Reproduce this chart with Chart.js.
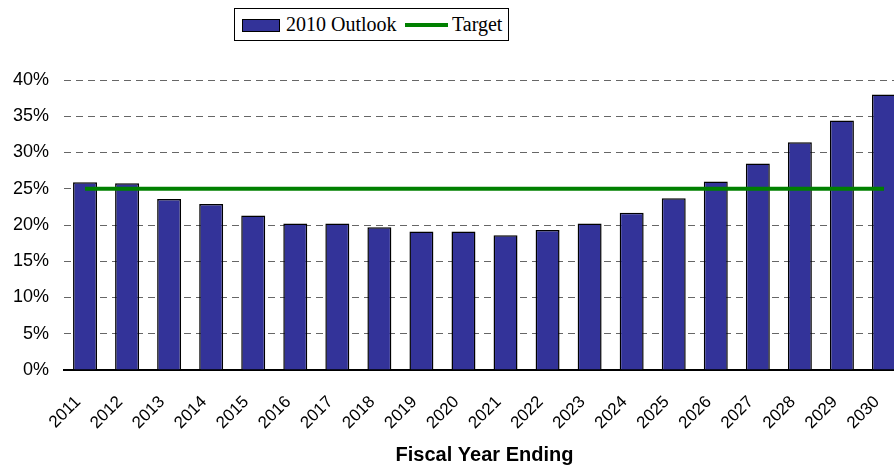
<!DOCTYPE html>
<html>
<head>
<meta charset="utf-8">
<title>2010 Outlook vs Target</title>
<script src="https://cdn.jsdelivr.net/npm/chart.js@4/dist/chart.umd.min.js"></script>
<style>
  html, body { margin: 0; padding: 0; background: #fff; overflow: hidden; width: 894px; height: 468px; }
  #wrap { position: absolute; left: 0; top: 0; width: 906px; height: 468px; }
  #legend {
    position: absolute; left: 234px; top: 8px; width: 273px; height: 31px;
    border: 1px solid #000; background: #fff;
    font-family: "Liberation Serif", "Times New Roman", serif; font-size: 20px; color: #000;
  }
  #legend .swatch { position: absolute; box-sizing: border-box; }
  #legend .label { position: absolute; top: 0; white-space: nowrap; }
</style>
</head>
<body>
<div id="wrap"><canvas id="chart"></canvas></div>
<div id="legend"></div>
<script>
// Fiscal years shown on the category axis
const years = ['2011','2012','2013','2014','2015','2016','2017','2018','2019','2020',
               '2021','2022','2023','2024','2025','2026','2027','2028','2029','2030'];

// 2010 Outlook ratio, percent
const outlook = [25.9, 25.75, 23.6, 22.9, 21.3, 20.2, 20.2, 19.7, 19.1, 19.1,
                 18.6, 19.3, 20.2, 21.7, 23.7, 26.0, 28.5, 31.4, 34.4, 38.0];

// Flat target level, percent
const target = years.map(() => 25);

// Value axis ticks
const yTicks = [0, 5, 10, 15, 20, 25, 30, 35, 40];

const seriesNames = ['2010 Outlook', 'Target'];
const barColor = '#333399';
const lineColor = '#008000';

const chart = new Chart(document.getElementById('chart'), {
  data: {
    labels: years,
    datasets: [
      {
        type: 'line',
        label: seriesNames[1],
        data: target,
        borderColor: lineColor,
        borderWidth: 4,
        pointRadius: 0,
        fill: false,
        order: 0
      },
      {
        type: 'bar',
        label: seriesNames[0],
        data: outlook,
        backgroundColor: barColor,
        borderColor: '#000',
        borderWidth: 1.5,
        borderSkipped: 'bottom',
        categoryPercentage: 1,
        barPercentage: 0.57,
        order: 1
      }
    ]
  },
  options: {
    responsive: true,
    maintainAspectRatio: false,
    animation: false,
    layout: { padding: { top: 80, left: 0, right: 1, bottom: 0 } },
    plugins: {
      legend: { display: false },
      tooltip: { enabled: false }
    },
    scales: {
      x: {
        grid: { display: false },
        border: { display: true, color: '#000', width: 2 },
        ticks: {
          autoSkip: false,
          maxRotation: 45,
          minRotation: 45,
          color: '#000',
          padding: 14,
          labelOffset: -7,
          font: { family: '"Liberation Sans", Arial, sans-serif', size: 17 }
        },
        title: {
          display: true,
          text: 'Fiscal Year Ending',
          color: '#000',
          padding: { top: 0, bottom: 1 },
          font: { family: '"Liberation Sans", Arial, sans-serif', size: 20, weight: 'bold' }
        },
        afterFit: (scale) => {
          scale.height = 98;
          scale.paddingLeft = 0;
          scale.paddingRight = 0;
        }
      },
      y: {
        min: 0,
        max: 40,
        afterBuildTicks: (scale) => { scale.ticks = yTicks.map(v => ({ value: v })); },
        grid: {
          color: '#666666',
          lineWidth: 1,
          drawTicks: false
        },
        border: { display: false, dash: [7, 5] },
        ticks: {
          color: '#000',
          padding: 15,
          font: { family: '"Liberation Sans", Arial, sans-serif', size: 18 },
          callback: (v) => v + '%'
        },
        afterFit: (scale) => {
          scale.width = 64;
          scale.paddingTop = 0;
          scale.paddingBottom = 0;
        }
      }
    }
  }
});

// Legend built from the chart's datasets
(function buildLegend() {
  const box = document.getElementById('legend');
  const bar = chart.data.datasets.find(d => d.type === 'bar');
  const line = chart.data.datasets.find(d => d.type === 'line');
  const html = [];
  html.push('<div class="swatch" style="left:7px;top:10px;width:38px;height:13px;background:' +
            bar.backgroundColor + ';border:1px solid #000"></div>');
  html.push('<div class="label" style="left:51px;line-height:31px">' + bar.label + '</div>');
  html.push('<div class="swatch" style="left:170px;top:14px;width:43px;height:4px;background:' +
            line.borderColor + '"></div>');
  html.push('<div class="label" style="left:217px;line-height:31px">' + line.label + '</div>');
  box.innerHTML = html.join('');
})();
</script>
</body>
</html>
